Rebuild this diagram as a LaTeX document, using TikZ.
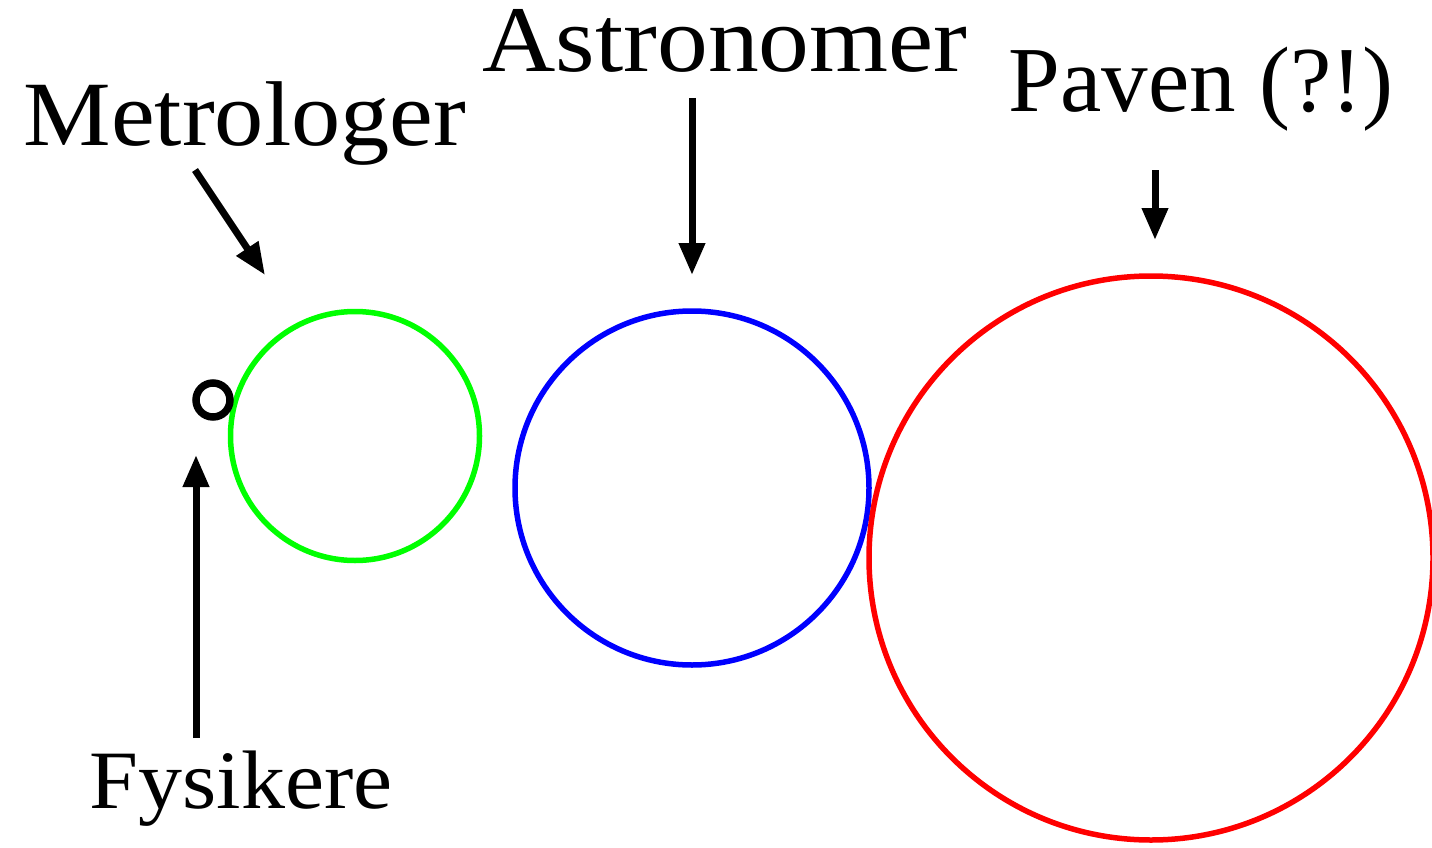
\documentclass[tikz,border=0pt]{standalone}
\usepackage{fontspec}
\setmainfont{Liberation Serif}
\usetikzlibrary{arrows.meta}
\begin{document}
\begin{tikzpicture}[x=1pt,y=-1pt,
  ring/.style={circle,draw,line width=5.5pt,inner sep=0pt},
  lbl/.style={anchor=base,inner sep=0pt},
  ptr/.style={line width=7pt,-{Triangle[length=32pt,width=25pt]}}]
\useasboundingbox (0,0) rectangle (1432,848);
% circles
\node[ring,draw=green,minimum size=249pt] (met) at (355,436) {};
\node[ring,draw=blue,minimum size=354pt] (ast) at (692,488) {};
\node[ring,draw=red,minimum size=564pt] (pav) at (1151,558) {};
\node[circle,draw=black,line width=7.5pt,inner sep=0pt,minimum size=34pt] (fys) at (213,400) {};
% labels
\node[lbl,xscale=1.07,font=\fontsize{92}{96}\selectfont] (tmet) at (245,146) {Metrologer};
\node[lbl,xscale=1.08,font=\fontsize{94}{98}\selectfont] (tast) at (725,72) {Astronomer};
\node[lbl,font=\fontsize{93}{96}\selectfont] (tpav) at (1201,112) {Paven (?!)};
\node[lbl,xscale=1.06,font=\fontsize{83}{88}\selectfont] (tfys) at (241,808) {Fysikere};
% arrow ends
\coordinate (m1) at (195,170); \coordinate (m2) at (265,275);
\coordinate (a1) at (692,98);  \coordinate (a2) at (692,275);
\coordinate (p1) at (1155,170); \coordinate (p2) at (1155,240);
\coordinate (f1) at (196,738); \coordinate (f2) at (196,455);
\draw[ptr] (m1) -- (m2);
\draw[ptr] (a1) -- (a2);
\draw[ptr] (p1) -- (p2);
\draw[ptr] (f1) -- (f2);
\end{tikzpicture}
\end{document}
